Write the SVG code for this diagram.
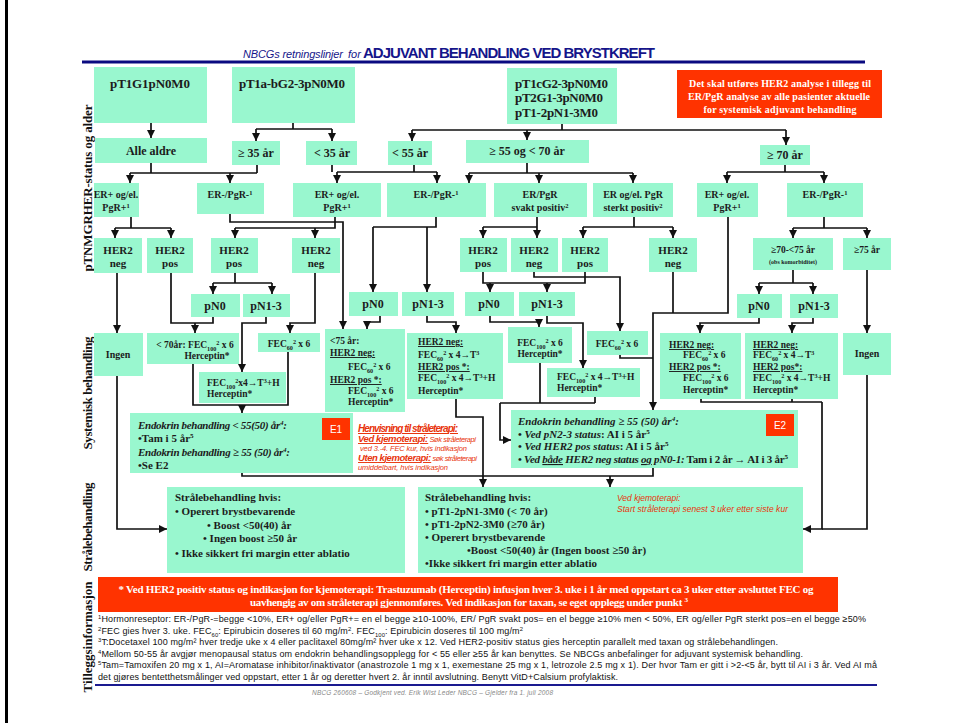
<svg xmlns="http://www.w3.org/2000/svg" width="954" height="723" viewBox="0 0 954 723">
<defs>
<marker id="ah" viewBox="0 0 10 10" refX="10" refY="5" markerWidth="8" markerHeight="8" markerUnits="userSpaceOnUse" orient="auto"><path d="M0,0 L10,5 L0,10 z" fill="#111"/></marker>
<style>
.bx{fill:#99f7cf}
.rb{fill:#ff3300}
.s{font-family:"Liberation Serif","Times New Roman",serif;font-weight:bold;fill:#1c1c1c}
.c{text-anchor:middle}
.w{fill:#fff}
.i{font-style:italic}
.u{text-decoration:underline}
.ln{fill:none;stroke:#111;stroke-width:1.7}
.ar{marker-end:url(#ah)}
.sb{font-size:65%;baseline-shift:sub}
.sp{font-size:65%;baseline-shift:super}
.f13{font-size:13px}.f12{font-size:12px}.f11{font-size:11px}.f10{font-size:10px}.f9{font-size:9.5px}
.lab{font-family:"Liberation Serif","Times New Roman",serif;font-weight:bold;font-size:13px;fill:#111;text-anchor:middle}
.fn{font-family:"Liberation Sans",Arial,sans-serif;font-size:9px;fill:#111}
.rt{font-family:"Liberation Sans",Arial,sans-serif;font-style:italic;fill:#e8340c}
.lb{font-family:"Liberation Sans",Arial,sans-serif;font-size:10px;fill:#fff;text-anchor:middle}
</style>
</defs>
<rect width="954" height="723" fill="#fff"/>
<rect x="5" y="0" width="3" height="723" fill="#000"/>

<g id="title">
<text x="243" y="58" font-family="Liberation Sans,Arial,sans-serif" font-style="italic" font-size="11" fill="#15158a" textLength="100">NBCGs retningslinjer</text>
<text x="348" y="58" font-family="Liberation Sans,Arial,sans-serif" font-style="italic" font-size="11" fill="#15158a">for</text>
<text x="363" y="58" font-family="Liberation Sans,Arial,sans-serif" font-weight="bold" font-size="15" fill="#15158a" textLength="292">ADJUVANT BEHANDLING VED BRYSTKREFT</text>
<line x1="82" y1="62" x2="865" y2="62" stroke="#0a0a80" stroke-width="3"/>
</g>

<g id="side-labels">
<text class="lab" transform="translate(92,188) rotate(-90)" textLength="167">pTNMGRHER-status og alder</text>
<text class="lab" transform="translate(92,393) rotate(-90)" textLength="113">Systemisk behandling</text>
<text class="lab" transform="translate(92,527) rotate(-90)" textLength="89">Strålebehandling</text>
<text class="lab" transform="translate(92,637) rotate(-90)" textLength="111">Tilleggsinformasjon</text>
</g>

<g id="n1"><rect class="bx" x="94" y="67" width="113" height="56"/><text class="s c f13" x="150" y="88" textLength="80">pT1G1pN0M0</text></g>
<g id="n2"><rect class="bx" x="232" y="67" width="123" height="56"/><text class="s c f13" x="292" y="88" textLength="106">pT1a-bG2-3pN0M0</text></g>
<g id="n3"><rect class="bx" x="507" y="68" width="110" height="56"/>
<text class="s f13" x="515" y="88" textLength="93">pT1cG2-3pN0M0</text>
<text class="s f13" x="515" y="102" textLength="88">pT2G1-3pN0M0</text>
<text class="s f13" x="515" y="117" textLength="83">pT1-2pN1-3M0</text></g>
<g id="her2-note"><rect class="rb" x="677" y="70" width="205" height="48"/>
<text class="s c w f10" x="780" y="87" textLength="182">Det skal utføres HER2 analyse i tillegg til</text>
<text class="s c w f10" x="779" y="100" textLength="182">ER/PgR analyse av alle pasienter aktuelle</text>
<text class="s c w f10" x="780" y="113" textLength="153">for systemisk adjuvant behandling</text></g>

<g id="a1"><rect class="bx" x="95" y="138" width="112" height="25"/><text class="s c f12" x="151" y="155">Alle aldre</text></g>
<g id="a2"><rect class="bx" x="232" y="141" width="48" height="24"/><text class="s c f12" x="256" y="157">≥ 35 år</text></g>
<g id="a3"><rect class="bx" x="306" y="141" width="51" height="24"/><text class="s c f12" x="332" y="157">&lt; 35 år</text></g>
<g id="a4"><rect class="bx" x="388" y="141" width="44" height="24"/><text class="s c f12" x="410" y="157">&lt; 55 år</text></g>
<g id="a5"><rect class="bx" x="466" y="140" width="123" height="23"/><text class="s c f12" x="527" y="155">≥ 55 og &lt; 70 år</text></g>
<g id="a6"><rect class="bx" x="760" y="145" width="50" height="20"/><text class="s c f12" x="785" y="159">≥ 70 år</text></g>

<g id="e1"><rect class="bx" x="94" y="183" width="45" height="34"/><text class="s c f10" x="116" y="198">ER+ og/el.</text><text class="s c f10" x="116" y="211">PgR+<tspan class="sp">1</tspan></text></g>
<g id="e2"><rect class="bx" x="197" y="183" width="67" height="31"/><text class="s c f10" x="230" y="198">ER-/PgR-<tspan class="sp">1</tspan></text></g>
<g id="e3"><rect class="bx" x="293" y="183" width="88" height="34"/><text class="s c f10" x="337" y="198">ER+ og/el.</text><text class="s c f10" x="337" y="211">PgR+<tspan class="sp">1</tspan></text></g>
<g id="e4"><rect class="bx" x="387" y="183" width="99" height="34"/><text class="s c f10" x="436" y="198">ER-/PgR-<tspan class="sp">1</tspan></text></g>
<g id="e5"><rect class="bx" x="494" y="183" width="93" height="34"/><text class="s c f10" x="540" y="198">ER/PgR</text><text class="s c f10" x="540" y="211">svakt positiv<tspan class="sp">2</tspan></text></g>
<g id="e6"><rect class="bx" x="593" y="183" width="80" height="34"/><text class="s c f10" x="633" y="198">ER og/el. PgR</text><text class="s c f10" x="633" y="211">sterkt positiv<tspan class="sp">2</tspan></text></g>
<g id="e7"><rect class="bx" x="697" y="183" width="61" height="34"/><text class="s c f10" x="727" y="198">ER+ og/el.</text><text class="s c f10" x="727" y="211">PgR+<tspan class="sp">1</tspan></text></g>
<g id="e8"><rect class="bx" x="787" y="183" width="76" height="34"/><text class="s c f10" x="825" y="198">ER-/PgR-<tspan class="sp">1</tspan></text></g>

<g id="h1"><rect class="bx" x="94" y="238" width="48" height="35"/><text class="s c f11" x="118" y="254">HER2</text><text class="s c f11" x="118" y="267">neg</text></g>
<g id="h2"><rect class="bx" x="147" y="238" width="46" height="35"/><text class="s c f11" x="170" y="254">HER2</text><text class="s c f11" x="170" y="267">pos</text></g>
<g id="h3"><rect class="bx" x="211" y="238" width="47" height="35"/><text class="s c f11" x="234" y="254">HER2</text><text class="s c f11" x="234" y="267">pos</text></g>
<g id="h4"><rect class="bx" x="292" y="238" width="48" height="35"/><text class="s c f11" x="316" y="254">HER2</text><text class="s c f11" x="316" y="267">neg</text></g>
<g id="h5"><rect class="bx" x="460" y="238" width="47" height="34"/><text class="s c f11" x="483" y="254">HER2</text><text class="s c f11" x="483" y="267">pos</text></g>
<g id="h6"><rect class="bx" x="511" y="238" width="47" height="34"/><text class="s c f11" x="534" y="254">HER2</text><text class="s c f11" x="534" y="267">neg</text></g>
<g id="h7"><rect class="bx" x="562" y="238" width="46" height="34"/><text class="s c f11" x="585" y="254">HER2</text><text class="s c f11" x="585" y="267">pos</text></g>
<g id="h8"><rect class="bx" x="649" y="238" width="48" height="34"/><text class="s c f11" x="673" y="254">HER2</text><text class="s c f11" x="673" y="267">neg</text></g>
<g id="h9"><rect class="bx" x="753" y="238" width="80" height="32"/><text class="s c" font-size="9.5" x="793" y="253">≥70-&lt;75 år</text><text class="s c" font-size="6" x="793" y="264">(obs komorbiditet)</text></g>
<g id="h10"><rect class="bx" x="843" y="238" width="48" height="32"/><text class="s c" font-size="9.5" x="867" y="253">≥75 år</text></g>

<g id="p1"><rect class="bx" x="191" y="294" width="49" height="23"/><text class="s c f12" x="215" y="310">pN0</text></g>
<g id="p2"><rect class="bx" x="243" y="294" width="47" height="23"/><text class="s c f12" x="266" y="310">pN1-3</text></g>
<g id="p3"><rect class="bx" x="349" y="292" width="49" height="24"/><text class="s c f12" x="373" y="308">pN0</text></g>
<g id="p4"><rect class="bx" x="402" y="292" width="52" height="24"/><text class="s c f12" x="428" y="308">pN1-3</text></g>
<g id="p5"><rect class="bx" x="465" y="292" width="49" height="24"/><text class="s c f12" x="489" y="308">pN0</text></g>
<g id="p6"><rect class="bx" x="519" y="292" width="56" height="24"/><text class="s c f12" x="547" y="308">pN1-3</text></g>
<g id="p7"><rect class="bx" x="737" y="294" width="45" height="24"/><text class="s c f12" x="759" y="310">pN0</text></g>
<g id="p8"><rect class="bx" x="790" y="294" width="48" height="24"/><text class="s c f12" x="814" y="310">pN1-3</text></g>

<g id="t1"><rect class="bx" x="94" y="333" width="49" height="43"/><text class="s c f10" x="118" y="358">Ingen</text></g>
<g id="t2"><rect class="bx" x="147" y="333" width="92" height="31"/><text class="s c f9" x="195" y="348">&lt; 70år: FEC<tspan class="sb">100</tspan><tspan class="sp">2</tspan> x 6</text><text class="s c f9" x="207" y="359">Herceptin*</text></g>
<g id="t3"><rect class="bx" x="258" y="333" width="62" height="19"/><text class="s c f9" x="289" y="347">FEC<tspan class="sb">60</tspan><tspan class="sp">2</tspan> x 6</text></g>
<g id="t4"><rect class="bx" x="199" y="372" width="87" height="31"/><text class="s f9" x="207" y="386">FEC<tspan class="sb">100</tspan><tspan class="sp">2</tspan>x4→T<tspan class="sp">3</tspan>+H</text><text class="s f9" x="207" y="397">Herceptin*</text></g>
<g id="t5"><rect class="bx" x="325" y="329" width="80" height="83"/>
<text class="s f9" x="330" y="344">&lt;75 år:</text>
<text class="s f9 u" x="330" y="356">HER2 neg:</text>
<text class="s f9" x="348" y="370">FEC<tspan class="sb">60</tspan><tspan class="sp">2</tspan> x 6</text>
<text class="s f9 u" x="330" y="383">HER2 pos *:</text>
<text class="s f9" x="348" y="394">FEC<tspan class="sb">100</tspan><tspan class="sp">2</tspan> x 6</text>
<text class="s f9" x="348" y="405">Herceptin*</text></g>
<g id="t6"><rect class="bx" x="407" y="333" width="96" height="66"/>
<text class="s f9 u" x="418" y="345">HER2 neg:</text>
<text class="s f9" x="418" y="358">FEC<tspan class="sb">60</tspan><tspan class="sp">2</tspan> x 4→T<tspan class="sp">3</tspan></text>
<text class="s f9 u" x="418" y="370">HER2 pos *:</text>
<text class="s f9" x="418" y="381">FEC<tspan class="sb">100</tspan><tspan class="sp">2</tspan> x 4→T<tspan class="sp">3</tspan>+H</text>
<text class="s f9" x="418" y="394">Herceptin*</text></g>
<g id="t7"><rect class="bx" x="508" y="327" width="64" height="36"/><text class="s c f9" x="540" y="346">FEC<tspan class="sb">100</tspan><tspan class="sp">2</tspan> x 6</text><text class="s c f9" x="540" y="357">Herceptin*</text></g>
<g id="t8"><rect class="bx" x="587" y="331" width="61" height="24"/><text class="s c f9" x="617" y="347">FEC<tspan class="sb">60</tspan><tspan class="sp">2</tspan> x 6</text></g>
<g id="t9"><rect class="bx" x="547" y="368" width="93" height="29"/><text class="s f9" x="557" y="380">FEC<tspan class="sb">100</tspan><tspan class="sp">2</tspan> x 4→T<tspan class="sp">3</tspan>+H</text><text class="s f9" x="557" y="391">Herceptin*</text></g>
<g id="t10"><rect class="bx" x="660" y="333" width="81" height="66"/>
<text class="s f9 u" x="669" y="348">HER2 neg:</text>
<text class="s f9" x="683" y="358">FEC<tspan class="sb">60</tspan><tspan class="sp">2</tspan> x 6</text>
<text class="s f9 u" x="669" y="370">HER2 pos *:</text>
<text class="s f9" x="683" y="381">FEC<tspan class="sb">100</tspan><tspan class="sp">2</tspan> x 6</text>
<text class="s f9" x="683" y="393">Herceptin*</text></g>
<g id="t11"><rect class="bx" x="745" y="333" width="93" height="66"/>
<text class="s f9 u" x="753" y="348">HER2 neg:</text>
<text class="s f9" x="753" y="358">FEC<tspan class="sb">60</tspan><tspan class="sp">2</tspan> x 4→T<tspan class="sp">3</tspan></text>
<text class="s f9 u" x="753" y="370">HER2 pos*:</text>
<text class="s f9" x="753" y="381">FEC<tspan class="sb">100</tspan><tspan class="sp">2</tspan> x 4→T<tspan class="sp">3</tspan>+H</text>
<text class="s f9" x="753" y="393">Herceptin*</text></g>
<g id="t12"><rect class="bx" x="843" y="333" width="48" height="42"/><text class="s c f10" x="867" y="357">Ingen</text></g>

<g id="E1"><rect class="bx" x="130" y="413" width="223" height="60"/>
<text class="s i f11" x="138" y="429" textLength="149">Endokrin behandling &lt; 55(50) år<tspan class="sp">4</tspan>:</text>
<text class="s f11" x="138" y="442">•Tam i 5 år<tspan class="sp">5</tspan></text>
<text class="s i f11" x="138" y="456" textLength="152">Endokrin behandling ≥ 55 (50) år<tspan class="sp">4</tspan>:</text>
<text class="s f11" x="138" y="469">•Se E2</text>
<rect class="rb" x="322" y="418" width="28" height="22"/><text class="lb" x="336" y="433">E1</text></g>
<g id="henvisning">
<text class="rt" x="358" y="432" font-size="10" font-weight="bold" text-decoration="underline" textLength="100">Henvisning til stråleterapi:</text>
<text class="rt" x="358" y="442" font-size="9.5" textLength="118"><tspan font-weight="bold" text-decoration="underline">Ved kjemoterapi:</tspan><tspan font-size="7.5"> Søk stråleterapi</tspan></text>
<text class="rt" x="360" y="451" font-size="7.5" textLength="107">ved 3.-4. FEC kur, hvis indikasjon</text>
<text class="rt" x="358" y="461" font-size="9.5" textLength="119"><tspan font-weight="bold" text-decoration="underline">Uten kjemoterapi:</tspan><tspan font-size="7.5"> søk stråleterapi</tspan></text>
<text class="rt" x="358" y="470" font-size="7.5" textLength="90">umiddelbart, hvis indikasjon</text></g>

<g id="E2"><rect class="bx" x="511" y="410" width="287" height="58"/>
<text class="s i f11" x="518" y="425">Endokrin behandling ≥ 55 (50) år<tspan class="sp">4</tspan>:</text>
<text class="s f11" x="518" y="438">• <tspan class="i">Ved pN2-3 status</tspan>: AI i 5 år<tspan class="sp">5</tspan></text>
<text class="s f11" x="518" y="450">• <tspan class="i">Ved HER2 pos status</tspan>: AI i 5 år<tspan class="sp">5</tspan></text>
<text class="s f11" x="518" y="463" textLength="270">• <tspan class="i">Ved <tspan class="u">både</tspan> HER2 neg status <tspan class="u">og</tspan> pN0-1:</tspan> Tam i 2 år → AI i 3 år<tspan class="sp">5</tspan></text>
<rect class="rb" x="766" y="414" width="28" height="22"/><text class="lb" x="780" y="429">E2</text></g>

<g id="S1"><rect class="bx" x="167" y="487" width="238" height="86"/>
<text class="s f11" x="175" y="501">Strålebehandling hvis:</text>
<text class="s f11" x="175" y="515">• Operert brystbevarende</text>
<text class="s f11" x="207" y="529">• Boost &lt;50(40) år</text>
<text class="s f11" x="203" y="542">• Ingen boost ≥50 år</text>
<text class="s f11" x="175" y="557">• Ikke sikkert fri margin etter ablatio</text></g>
<g id="S2"><rect class="bx" x="418" y="487" width="385" height="86"/>
<text class="s f11" x="425" y="501">Strålebehandling hvis:</text>
<text class="s f11" x="425" y="515">• pT1-2pN1-3M0 (&lt; 70 år)</text>
<text class="s f11" x="425" y="528">• pT1-2pN2-3M0 (≥70 år)</text>
<text class="s f11" x="425" y="541">• Operert brystbevarende</text>
<text class="s f11" x="467" y="554">•Boost &lt;50(40) år (Ingen boost ≥50 år)</text>
<text class="s f11" x="425" y="567">•Ikke sikkert fri margin etter ablatio</text>
<text class="rt" x="617" y="501" font-size="8.5">Ved kjemoterapi:</text>
<text class="rt" x="617" y="512" font-size="8.5" textLength="171">Start stråleterapi senest 3 uker etter siste kur</text></g>

<g id="banner"><rect class="rb" x="98" y="577" width="740" height="35"/>
<text class="s c w f11" x="466" y="593" textLength="695">* Ved HER2 positiv status og indikasjon for kjemoterapi: Trastuzumab (Herceptin) infusjon hver 3. uke i 1 år med oppstart ca 3 uker etter avsluttet  FEC og</text>
<text class="s c w f11" x="469" y="606" textLength="438">uavhengig av om stråleterapi gjennomføres. Ved indikasjon for taxan, se eget opplegg under punkt <tspan class="sp">3</tspan></text></g>

<g id="footnotes">
<text class="fn" x="98" y="622" textLength="768"><tspan class="sp">1</tspan>Hormonreseptor: ER-/PgR-=begge &lt;10%, ER+ og/eller PgR+= en el begge ≥10-100%, ER/ PgR svakt pos= en el begge ≥10%  men &lt; 50%, ER og/eller PgR sterkt pos=en el begge ≥50%</text>
<text class="fn" x="98" y="634" textLength="425"><tspan class="sp">2</tspan>FEC gies hver 3. uke. FEC<tspan class="sb">60</tspan>: Epirubicin doseres til 60 mg/m<tspan class="sp">2</tspan>. FEC<tspan class="sb">100</tspan>: Epirubicin doseres til 100 mg/m<tspan class="sp">2</tspan></text>
<text class="fn" x="98" y="645" textLength="680"><tspan class="sp">3</tspan>T:Docetaxel 100 mg/m² hver tredje uke x 4 eller paclitaxel 80mg/m² hver uke x 12. Ved HER2-positiv status gies herceptin parallelt med taxan og strålebehandlingen.</text>
<text class="fn" x="98" y="657" textLength="705"><tspan class="sp">4</tspan>Mellom 50-55 år avgjør menopausal status om endokrin behandlingsopplegg for &lt; 55 eller ≥55 år kan benyttes. Se NBCGs anbefalinger for adjuvant systemisk behandling.</text>
<text class="fn" x="98" y="668" textLength="779"><tspan class="sp">5</tspan>Tam=Tamoxifen 20 mg x 1, AI=Aromatase inhibitor/inaktivator (anastrozole 1 mg x 1, exemestane 25 mg x 1, letrozole 2.5 mg x 1). Der hvor Tam er gitt i &gt;2-&lt;5 år, bytt til AI i 3 år. Ved AI må</text>
<text class="fn" x="98" y="680" textLength="520">det gjøres bentetthetsmålinger ved oppstart, etter 1 år og deretter hvert 2. år inntil avslutning. Benytt VitD+Calsium profylaktisk.</text>
<line x1="95" y1="685" x2="877" y2="685" stroke="#1a1a90" stroke-width="2"/>
<text x="312" y="695" font-family="Liberation Sans,Arial,sans-serif" font-style="italic" font-size="6.5" fill="#888" textLength="241">NBCG 260608  – Godkjent ved. Erik Wist Leder NBCG – Gjelder fra 1. juli 2008</text>
</g>

<g id="connectors" class="ln">
<path class="ar" d="M151,123V138"/>
<path d="M293,123V129M256,129H332"/>
<path class="ar" d="M256,129V141"/>
<path class="ar" d="M332,129V141"/>
<path d="M562,124V130M412,130H786"/>
<path class="ar" d="M412,130V141"/>
<path class="ar" d="M527,130V140"/>
<path class="ar" d="M786,130V145"/>
<path d="M151,163V173M257,165V173M130,173H257"/>
<path class="ar" d="M130,173V183"/>
<path class="ar" d="M230,173V183"/>
<path d="M332,165V172M414,165V172M337,172H437"/>
<path class="ar" d="M337,172V183"/>
<path class="ar" d="M437,172V183"/>
<path d="M527,163V173M469,173H633"/>
<path class="ar" d="M469,173V183"/>
<path class="ar" d="M539,173V183"/>
<path class="ar" d="M633,173V183"/>
<path d="M785,165V172M727,172H824"/>
<path class="ar" d="M727,172V183"/>
<path class="ar" d="M824,172V183"/>
<path d="M131,217V228M115,228H171"/>
<path class="ar" d="M115,228V238"/>
<path class="ar" d="M171,228V238"/>
<path class="ar" d="M230,214V222H343V329"/>
<path d="M335,217V228H235"/>
<path class="ar" d="M235,228V238"/>
<path class="ar" d="M315,228V238"/>
<path d="M436,217V227H373"/>
<path class="ar" d="M373,227V292"/>
<path class="ar" d="M427,227V292"/>
<path d="M483,227H537"/>
<path class="ar" d="M537,217V238"/>
<path class="ar" d="M483,227V238"/>
<path d="M634,217V227M583,227H673"/>
<path class="ar" d="M583,227V238"/>
<path class="ar" d="M673,227V238"/>
<path class="ar" d="M728,217V313H653V410"/>
<path d="M673,272V313"/>
<path d="M824,217V228M793,228H867"/>
<path class="ar" d="M793,228V238"/>
<path class="ar" d="M867,228V238"/>
<path class="ar" d="M117,273V333"/>
<path d="M171,273V323H213V317"/>
<path class="ar" d="M195,323V333"/>
<path d="M235,273V283M213,283H272"/>
<path class="ar" d="M213,283V294"/>
<path class="ar" d="M272,283V294"/>
<path class="ar" d="M266,317V323H242V372"/>
<path class="ar" d="M315,273V323H290V333"/>
<path d="M193,364V405H288V352"/>
<path class="ar" d="M242,405V413"/>
<path class="ar" d="M380,316V322H367V329"/>
<path class="ar" d="M427,316V322H456V333"/>
<path d="M483,272V283H547M585,272V283H547"/>
<path class="ar" d="M490,283V292"/>
<path class="ar" d="M547,283V292"/>
<path class="ar" d="M534,272V277H620V331"/>
<path class="ar" d="M490,316V322H539V327"/>
<path class="ar" d="M547,316V323H583V368"/>
<path d="M620,355V358H653"/>
<path d="M540,363V403M595,397V403M500,403H595"/>
<path class="ar" d="M500,403V440H511"/>
<path d="M793,270V283M759,283H813"/>
<path class="ar" d="M759,283V294"/>
<path class="ar" d="M813,283V294"/>
<path class="ar" d="M867,270V333"/>
<path class="ar" d="M759,318V323H700V333"/>
<path class="ar" d="M813,318V323H792V333"/>
<path d="M701,399V402H822M792,399V402M867,375V529H822"/>
<path class="ar" d="M822,402V529H803"/>
<path class="ar" d="M456,399V417H483V487"/>
<path d="M242,473V476H653V468"/>
<path class="ar" d="M610,476V487"/>
<path class="ar" d="M117,376V529H167"/>
</g>
</svg>
